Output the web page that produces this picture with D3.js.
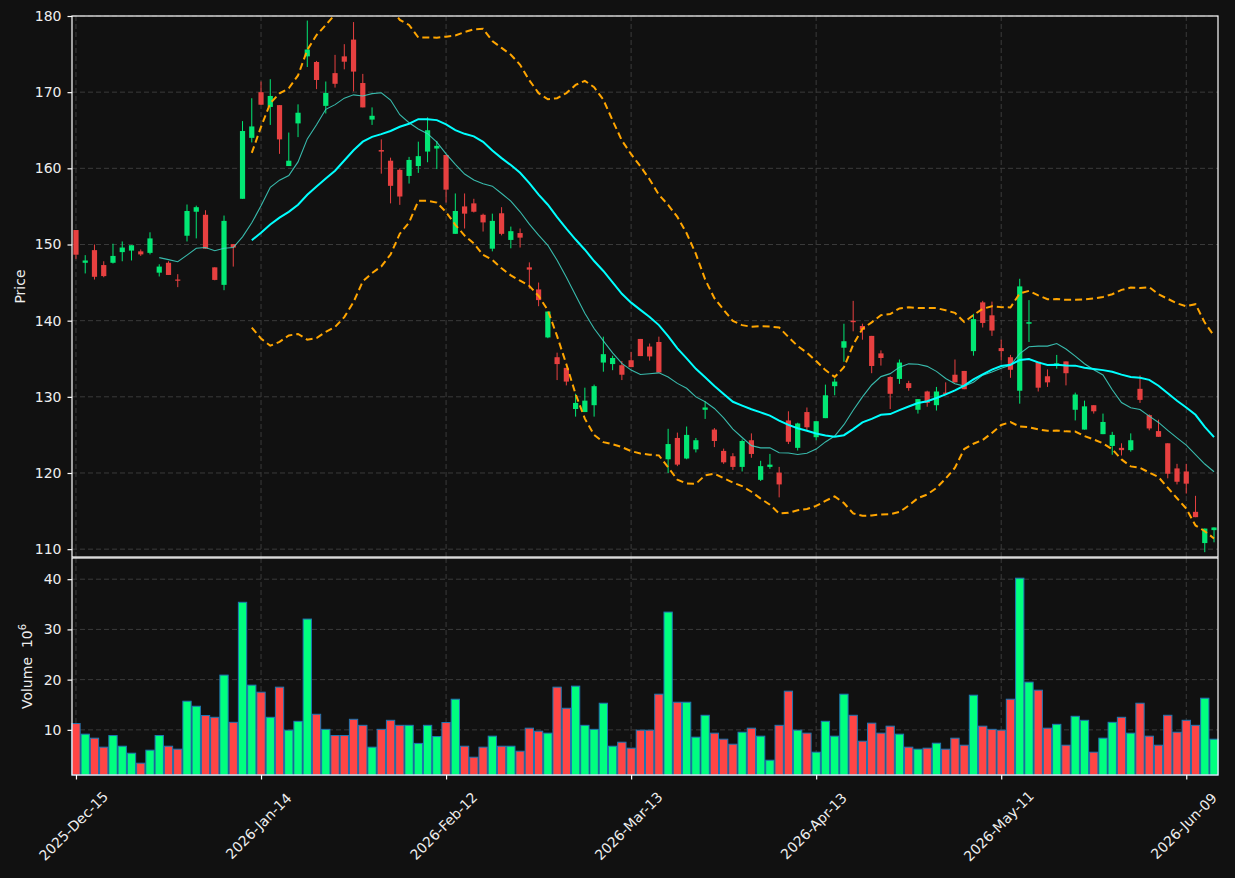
<!DOCTYPE html>
<html>
<head>
<meta charset="utf-8">
<script src="https://cdn.jsdelivr.net/npm/d3@7"></script>
<style>
  body { margin: 0; background: #111111; }
  svg { display: block; }
  text { font-family: "DejaVu Sans", sans-serif; }
</style>
</head>
<body>
<div id="chart"></div>
<script>
// daily candles, price in USD, volume in millions
var open = [151.9,147.6,149.26,147.3,147.6,149.0,149.2,149.1,148.9,146.3,147.6,145.4,151.15,154.3,153.9,147.0,144.7,150.05,156.0,164.0,
  170.0,168.06,168.3,160.3,165.9,174.7,173.96,168.2,172.5,174.7,176.9,171.2,166.4,162.4,161.0,159.8,159.0,160.3,162.2,162.6,
  161.75,151.4,155.0,155.4,153.9,149.45,154.1,150.6,151.5,147.0,144.1,137.8,135.2,133.8,128.4,128.0,128.9,134.5,134.3,134.15,
  134.8,137.6,136.6,137.2,121.8,124.6,121.9,123.1,128.3,125.7,122.9,122.2,120.8,124.3,119.1,120.8,120.05,126.9,123.3,128.0,
  124.7,127.2,131.4,136.45,140.0,139.3,138.0,135.7,132.6,132.35,131.8,128.3,130.7,128.9,130.55,132.9,133.4,136.0,142.4,140.7,
  136.4,135.2,130.8,139.6,134.6,132.7,134.1,134.65,128.3,125.7,128.9,125.1,123.55,123.3,123.0,131.05,127.6,125.5,123.9,120.6,
  120.2,114.9,110.8,112.5];
var high = [151.9,148.6,150.0,147.8,150.1,150.4,149.9,149.35,151.6,147.4,147.8,146.1,155.25,155.1,154.5,147.0,153.8,150.05,166.2,169.2,
  171.4,171.7,168.3,164.7,168.4,179.4,174.1,171.4,174.9,176.3,179.2,172.4,168.0,163.8,161.4,160.0,161.5,163.5,166.7,163.6,
  161.75,156.7,156.7,156.0,154.05,154.05,154.9,152.35,152.1,147.65,145.0,141.2,135.8,133.8,130.4,131.2,131.6,137.9,135.4,134.7,
  135.9,137.6,137.0,137.9,125.8,125.3,126.1,124.6,129.4,125.9,123.2,122.6,124.4,125.2,121.6,122.5,120.8,128.1,126.6,128.6,
  126.8,131.6,132.4,139.6,142.6,139.6,138.0,136.1,132.7,134.9,132.1,129.7,130.8,131.3,131.9,134.9,133.4,140.9,142.6,142.5,
  137.5,135.5,145.5,142.7,134.6,133.6,135.5,134.65,130.55,129.5,128.9,127.8,125.4,123.9,125.2,132.8,127.7,127.0,123.9,121.2,
  121.2,117.0,112.7,112.85];
var low = [148.1,146.2,145.4,145.7,147.5,147.8,147.9,148.5,148.7,145.8,146.0,144.4,150.4,150.8,149.45,145.3,144.0,147.1,156.0,163.4,
  168.35,165.7,161.9,160.3,164.1,173.3,170.4,167.2,170.6,173.0,170.1,168.0,165.7,159.3,155.4,155.2,158.0,159.4,160.8,159.9,
  155.5,151.4,152.1,154.2,151.7,149.1,151.2,149.5,149.6,144.2,141.9,137.7,132.2,131.5,127.4,128.0,127.4,133.3,133.5,132.2,
  133.9,135.35,134.75,133.2,120.0,120.9,121.8,122.7,127.1,123.4,121.2,120.4,120.2,122.0,118.95,120.55,116.8,123.8,122.95,125.6,
  124.3,127.2,130.2,134.6,138.6,137.5,133.1,134.1,128.4,131.7,130.8,127.8,128.7,128.2,130.4,131.9,131.0,135.4,139.1,138.0,
  134.8,132.5,129.1,137.2,130.7,131.3,133.7,131.5,126.9,125.7,127.8,125.1,122.4,122.3,122.8,129.2,125.6,124.75,119.3,118.5,
  117.3,114.2,109.6,110.9];
var close = [148.66,147.9,145.76,145.85,148.5,149.6,149.9,148.7,150.8,147.1,146.0,145.25,154.4,154.9,149.45,145.35,153.1,149.6,164.9,165.5,
  168.35,169.5,163.8,161.0,167.3,175.6,171.6,169.9,171.1,174.0,172.7,168.0,166.9,162.2,157.7,156.3,161.1,161.6,165.0,162.95,
  157.2,154.4,154.05,154.3,152.9,153.1,151.4,151.75,150.9,146.7,142.7,141.2,134.3,132.0,129.2,129.5,131.4,135.6,135.1,132.9,
  133.9,135.35,135.3,133.2,123.8,121.1,125.0,124.3,128.6,124.2,121.4,120.8,124.2,122.5,120.9,121.1,118.5,124.1,126.5,126.0,
  126.8,130.2,132.0,137.3,139.8,138.8,134.05,135.1,130.4,134.5,131.15,129.7,129.2,130.7,130.4,131.9,131.0,140.2,139.7,138.7,
  136.0,133.55,144.5,139.8,131.2,131.9,134.4,133.1,130.3,128.75,128.1,126.7,125.0,123.0,124.3,129.6,125.85,124.75,119.9,118.85,
  118.6,114.2,112.7,112.85];
var volume = [11.26,9.14,8.34,6.55,8.87,6.74,5.35,3.36,5.95,8.87,6.74,6.15,15.7,14.7,12.86,12.5,20.9,11.5,35.4,18.9,
  17.5,12.5,18.5,9.93,11.7,32.06,13.1,10.1,8.87,8.87,12.1,10.9,6.55,10.1,11.9,10.9,10.9,7.3,10.9,8.67,
  11.46,16.1,6.74,4.55,6.55,8.74,6.74,6.74,5.75,10.33,9.73,9.34,18.5,14.3,18.7,10.9,10.1,15.3,6.74,7.54,
  6.35,9.93,9.93,17.1,33.45,15.5,15.5,8.54,12.9,9.34,8.14,7.14,9.53,10.33,8.74,3.95,10.9,17.7,9.93,9.34,
  5.55,11.7,8.74,17.1,12.9,7.74,11.33,9.34,10.73,9.14,6.55,6.15,6.35,7.34,6.15,8.34,6.94,16.9,10.73,10.1,
  9.93,16.1,40.2,19.5,17.9,10.33,11.1,6.94,12.7,11.9,5.55,8.34,11.5,12.5,9.34,15.3,8.74,6.94,12.9,9.53,
  11.9,10.9,16.3,8.14];

var tickIndex = [0, 20, 40, 60, 80, 100, 120];
var tickLabels = ["2025-Dec-15", "2026-Jan-14", "2026-Feb-12", "2026-Mar-13", "2026-Apr-13", "2026-May-11", "2026-Jun-09"];
var priceTicks = [110, 120, 130, 140, 150, 160, 170, 180];
var volumeTicks = [10, 20, 30, 40];

var width = 1235;
var height = 878;
var left = 72, right = 1218;
var priceTop = 16, priceBottom = 557;
var volTop = 558, volBottom = 775;

var upColor = "#02e774", downColor = "#e74040";
var upVol = "#00ff7f", downVol = "#ff4545";
var textColor = "#eeeeee";
var gridColor = "#3b3b3b";

var svg = d3.select("#chart")
  .append("svg")
  .attr("width", width)
  .attr("height", height);

svg.append("rect").attr("width", width).attr("height", height).attr("fill", "#111111");

var n = close.length;
var data = d3.range(n).map(function(i) {
  return { i: i, o: open[i], h: high[i], l: low[i], c: close[i], v: volume[i] };
});

var xScale = d3.scaleLinear().domain([-0.43, n - 1 + 0.43]).range([left, right]);
var yScale = d3.scaleLinear().domain([108.97, 180]).range([priceBottom, priceTop]);
var vScale = d3.scaleLinear()
  .domain([d3.min(volume) * 0.3, d3.max(volume) * 1.1])
  .range([volBottom, volTop]);

// moving averages and bands
function rolling(arr, k, fn) {
  return arr.map(function(d, i) {
    if (i < k - 1) return null;
    return fn(arr.slice(i - k + 1, i + 1));
  });
}
var ma10 = rolling(close, 10, d3.mean);
var ma20 = rolling(close, 20, d3.mean);
var sd20 = rolling(close, 20, d3.deviation);
var upper = ma20.map(function(m, i) { return m === null ? null : m + 2 * sd20[i]; });
var lower = ma20.map(function(m, i) { return m === null ? null : m - 2 * sd20[i]; });

var defs = svg.append("defs");
defs.append("clipPath").attr("id", "clipPrice")
  .append("rect").attr("x", left).attr("y", priceTop)
  .attr("width", right - left).attr("height", priceBottom - priceTop);

// grid
function drawGrid(top, bottom, scale, ticks) {
  var g = svg.append("g").attr("class", "grid");
  g.selectAll("line.h").data(ticks).enter().append("line")
    .attr("x1", left).attr("x2", right)
    .attr("y1", function(d) { return scale(d); })
    .attr("y2", function(d) { return scale(d); });
  g.selectAll("line.v").data(tickIndex).enter().append("line")
    .attr("x1", function(d) { return xScale(d); })
    .attr("x2", function(d) { return xScale(d); })
    .attr("y1", top).attr("y2", bottom);
  g.selectAll("line")
    .attr("stroke", gridColor)
    .attr("stroke-width", 1)
    .attr("stroke-dasharray", "5,3");
}
drawGrid(priceTop, priceBottom, yScale, priceTicks);
drawGrid(volTop, volBottom, vScale, volumeTicks);

// candles
var candles = svg.append("g").attr("clip-path", "url(#clipPrice)");
var bodyW = 5.2;
candles.selectAll("line.wick").data(data).enter().append("line")
  .attr("class", "wick")
  .attr("x1", function(d) { return xScale(d.i); })
  .attr("x2", function(d) { return xScale(d.i); })
  .attr("y1", function(d) { return yScale(d.h); })
  .attr("y2", function(d) { return yScale(d.l); })
  .attr("stroke", function(d) { return d.c >= d.o ? upColor : downColor; })
  .attr("stroke-width", 1);
candles.selectAll("rect.body").data(data).enter().append("rect")
  .attr("class", "body")
  .attr("x", function(d) { return xScale(d.i) - bodyW / 2; })
  .attr("width", bodyW)
  .attr("y", function(d) { return yScale(Math.max(d.o, d.c)); })
  .attr("height", function(d) { return Math.max(1.2, Math.abs(yScale(d.o) - yScale(d.c))); })
  .attr("fill", function(d) { return d.c >= d.o ? upColor : downColor; });

// lines
var lines = svg.append("g").attr("clip-path", "url(#clipPrice)");
function lineFor(arr) {
  return d3.line()
    .defined(function(d) { return d !== null; })
    .x(function(d, i) { return xScale(i); })
    .y(function(d) { return yScale(d); })(arr);
}
lines.append("path").attr("d", lineFor(upper))
  .attr("fill", "none").attr("stroke", "#ffa500").attr("stroke-width", 2).attr("stroke-dasharray", "7,4");
lines.append("path").attr("d", lineFor(lower))
  .attr("fill", "none").attr("stroke", "#ffa500").attr("stroke-width", 2).attr("stroke-dasharray", "7,4");
lines.append("path").attr("d", lineFor(ma10))
  .attr("fill", "none").attr("stroke", "#40d8c8").attr("stroke-width", 1.1).attr("stroke-opacity", 0.85);
lines.append("path").attr("d", lineFor(ma20))
  .attr("fill", "none").attr("stroke", "#00ffff").attr("stroke-width", 2);

// volume
var barW = 8.3;
svg.append("g").selectAll("rect").data(data).enter().append("rect")
  .attr("x", function(d) { return xScale(d.i) - barW / 2; })
  .attr("width", barW)
  .attr("y", function(d) { return vScale(d.v); })
  .attr("height", function(d) { return volBottom - vScale(d.v); })
  .attr("fill", function(d) { return d.c >= d.o ? upVol : downVol; })
  .attr("stroke", "#1f77b4")
  .attr("stroke-width", 1);

// frames
[[priceTop, priceBottom], [volTop, volBottom]].forEach(function(p) {
  svg.append("rect")
    .attr("x", left).attr("y", p[0])
    .attr("width", right - left).attr("height", p[1] - p[0])
    .attr("fill", "none").attr("stroke", "#ffffff").attr("stroke-width", 1.2);
});

// axes
function styleAxis(g) {
  g.select(".domain").remove();
  g.selectAll(".tick line").attr("stroke", "#ffffff").attr("stroke-width", 1.2);
  g.selectAll(".tick text")
    .attr("fill", textColor)
    .style("font-size", "14px")
    .style("font-family", "DejaVu Sans, sans-serif");
}
svg.append("g")
  .attr("transform", "translate(" + left + ",0)")
  .call(d3.axisLeft(yScale).tickValues(priceTicks).tickSize(4.5).tickPadding(6).tickFormat(d3.format("d")))
  .call(styleAxis);
svg.append("g")
  .attr("transform", "translate(" + left + ",0)")
  .call(d3.axisLeft(vScale).tickValues(volumeTicks).tickSize(4.5).tickPadding(6).tickFormat(d3.format("d")))
  .call(styleAxis);

svg.append("g")
  .attr("transform", "translate(0," + volBottom + ")")
  .call(d3.axisBottom(xScale).tickValues(tickIndex).tickSize(4.5).tickFormat(""))
  .call(styleAxis);

svg.append("g").selectAll("text").data(tickIndex).enter().append("text")
  .attr("transform", function(d) {
    return "translate(" + (xScale(d) - 2.5) + ",826) rotate(-45)";
  })
  .attr("text-anchor", "middle")
  .attr("dominant-baseline", "central")
  .attr("fill", textColor)
  .style("font-size", "14px")
  .text(function(d, i) { return tickLabels[i]; });

// axis labels
svg.append("text")
  .attr("transform", "translate(25," + (priceTop + priceBottom) / 2 + ") rotate(-90)")
  .attr("text-anchor", "middle")
  .attr("fill", textColor)
  .style("font-size", "14px")
  .text("Price");

var vl = svg.append("text")
  .attr("transform", "translate(32," + (volTop + volBottom) / 2 + ") rotate(-90)")
  .attr("text-anchor", "middle")
  .attr("fill", textColor)
  .style("font-size", "14px");
vl.append("tspan").text("Volume\u00a0\u00a010");
vl.append("tspan").attr("dy", -6).style("font-size", "10px").text("6");
</script>
</body>
</html>
